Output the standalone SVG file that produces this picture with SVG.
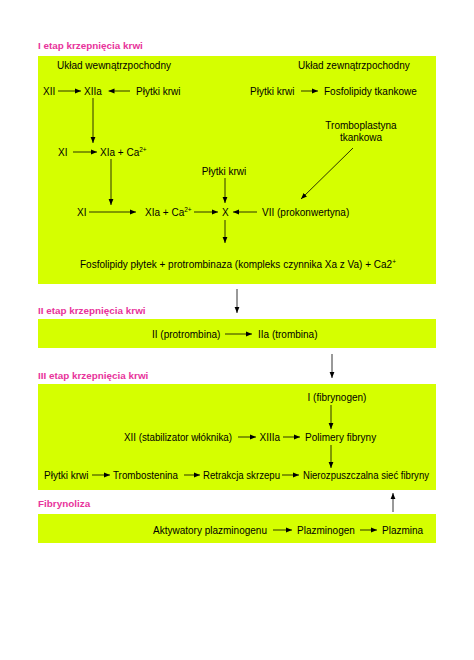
<svg xmlns="http://www.w3.org/2000/svg" width="474" height="660" viewBox="0 0 474 660">
<defs>
<marker id="ah" viewBox="0 0 10 10" refX="10" refY="5" markerWidth="6" markerHeight="6" orient="auto" markerUnits="userSpaceOnUse">
<path d="M0,1 L10,5 L0,9 Z" fill="#000"/>
</marker>
<style>
.box{fill:#d5ff00;}
.t{font-family:"Liberation Sans",Arial,sans-serif;font-size:10px;fill:#000;}
.h{font-family:"Liberation Sans",Arial,sans-serif;font-size:9.9px;font-weight:bold;fill:#e8339b;}
.c line{stroke:#000;stroke-width:0.8;marker-end:url(#ah);}
.sup{font-size:6.5px;}
</style>
</defs>
<rect width="474" height="660" fill="#fff"/>
<g id="stage1">
<text class="h" x="38" y="49">I etap krzepnięcia krwi</text>
<rect class="box" x="38" y="56" width="398" height="228"/>
</g>
<g id="stage2">
<text class="h" x="38" y="314">II etap krzepnięcia krwi</text>
<rect class="box" x="38" y="319" width="398" height="29"/>
</g>
<g id="stage3">
<text class="h" x="38" y="379">III etap krzepnięcia krwi</text>
<rect class="box" x="38" y="384" width="398" height="106"/>
</g>
<g id="stage4">
<text class="h" x="38" y="507">Fibrynoliza</text>
<rect class="box" x="38" y="514" width="398" height="29"/>
</g>
<g id="nodes">
<text id="n-uw" class="t" x="57" y="68.5">Układ wewnątrzpochodny</text>
<text id="n-uz" class="t" x="298" y="68.5">Układ zewnątrzpochodny</text>
<text id="n-xii" class="t" x="43" y="94.5">XII</text>
<text id="n-xiia" class="t" x="84" y="94.5">XIIa</text>
<text id="n-pk1" class="t" x="136" y="94.5">Płytki krwi</text>
<text id="n-pk2" class="t" x="250" y="94.5">Płytki krwi</text>
<text id="n-ft" class="t" x="324" y="94.5">Fosfolipidy tkankowe</text>
<text id="n-xi1" class="t" x="58" y="155.5">XI</text>
<text id="n-xia1" class="t" x="100" y="155.5">XIa + Ca<tspan class="sup" dy="-3.5">2+</tspan></text>
<text id="n-tt" class="t" x="361" y="128.5" text-anchor="middle">Tromboplastyna<tspan x="361" dy="12">tkankowa</tspan></text>
<text id="n-pk3" class="t" x="224" y="174.5" text-anchor="middle">Płytki krwi</text>
<text id="n-xi2" class="t" x="77" y="215.5">XI</text>
<text id="n-xia2" class="t" x="145" y="215.5">XIa + Ca<tspan class="sup" dy="-3.5">2+</tspan></text>
<text id="n-x" class="t" x="222" y="215.5">X</text>
<text id="n-vii" class="t" x="262" y="215.5">VII (prokonwertyna)</text>
<text id="n-fp" class="t" x="238" y="267.5" text-anchor="middle">Fosfolipidy płytek + protrombinaza (kompleks czynnika Xa z Va) + Ca2<tspan class="sup" dy="-3.5">+</tspan></text>
<text id="n-ii" class="t" x="152" y="337.5">II (protrombina)</text>
<text id="n-iia" class="t" x="258" y="337.5">IIa (trombina)</text>
<text id="n-fib" class="t" x="337" y="400.5" text-anchor="middle">I (fibrynogen)</text>
<text id="n-xiii" class="t" x="124" y="440.5" textLength="108" lengthAdjust="spacingAndGlyphs">XII (stabilizator włóknika)</text>
<text id="n-xiiia" class="t" x="259.5" y="440.5">XIIIa</text>
<text id="n-pf" class="t" x="305" y="440.5">Polimery fibryny</text>
<text id="n-pk4" class="t" x="44" y="478.5">Płytki krwi</text>
<text id="n-tr" class="t" x="113" y="478.5" textLength="65" lengthAdjust="spacingAndGlyphs">Trombostenina</text>
<text id="n-rs" class="t" x="203" y="478.5" textLength="77" lengthAdjust="spacingAndGlyphs">Retrakcja skrzepu</text>
<text id="n-ns" class="t" x="303" y="478.5" textLength="126" lengthAdjust="spacingAndGlyphs">Nierozpuszczalna sieć fibryny</text>
<text id="n-ap" class="t" x="153" y="533.5">Aktywatory plazminogenu</text>
<text id="n-pl" class="t" x="297" y="533.5">Plazminogen</text>
<text id="n-pa" class="t" x="382" y="533.5">Plazmina</text>
</g>
<g id="connectors" class="c">
<line x1="58" y1="91" x2="81" y2="91"/>
<line x1="130" y1="91" x2="108.5" y2="91"/>
<line x1="301" y1="91" x2="318" y2="91"/>
<line x1="93" y1="98" x2="93" y2="143"/>
<line x1="73" y1="152" x2="97" y2="152"/>
<line x1="111" y1="159" x2="111" y2="205"/>
<line x1="353" y1="148" x2="301" y2="199"/>
<line x1="225" y1="178" x2="225" y2="203"/>
<line x1="89" y1="212" x2="136" y2="212"/>
<line x1="194" y1="212" x2="218" y2="212"/>
<line x1="257" y1="212" x2="233" y2="212"/>
<line x1="225" y1="220" x2="225" y2="243"/>
<line x1="237" y1="289" x2="237" y2="313"/>
<line x1="225" y1="334" x2="252" y2="334"/>
<line x1="332" y1="354" x2="332" y2="378"/>
<line x1="331" y1="405" x2="331" y2="429"/>
<line x1="238" y1="437" x2="256" y2="437"/>
<line x1="283" y1="437" x2="300" y2="437"/>
<line x1="331" y1="445" x2="331" y2="468"/>
<line x1="92" y1="475" x2="110" y2="475"/>
<line x1="184" y1="475" x2="200" y2="475"/>
<line x1="282" y1="475" x2="299" y2="475"/>
<line x1="273" y1="530" x2="292" y2="530"/>
<line x1="360" y1="530" x2="377" y2="530"/>
<line x1="393" y1="512" x2="393" y2="493"/>
</g>
</svg>
